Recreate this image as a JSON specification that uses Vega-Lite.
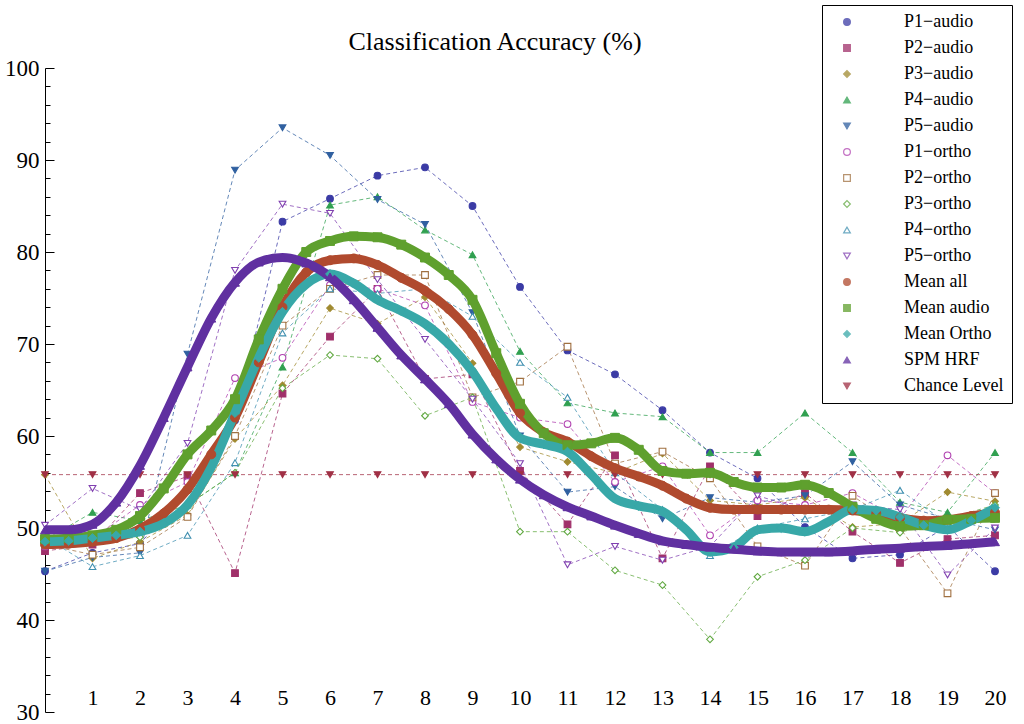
{
  "$schema": "https://vega.github.io/schema/vega-lite/v6.json",
  "width": 950,
  "height": 644,
  "autosize": {"type": "none"},
  "padding": {"left": 45, "top": 68, "right": 29, "bottom": 12},
  "background": "white",
  "config": {
    "view": {"stroke": null},
    "font": "Liberation Serif"
  },
  "title": {
    "text": "Classification Accuracy (%)",
    "font": "Liberation Serif",
    "fontSize": 26,
    "fontWeight": "normal",
    "color": "black",
    "anchor": "middle",
    "frame": "group",
    "dx": -25,
    "offset": -50
  },
  "datasets": {
    "ind": [
      {"x": 0, "P1−audio": 45.3, "P2−audio": 47.5, "P3−audio": 55.8, "P4−audio": 48.7, "P5−audio": 45.3, "P1−ortho": 48.0, "P2−ortho": 48.2, "P3−ortho": 48.5, "P4−ortho": 49.0, "P5−ortho": 50.3, "Chance Level": 55.8},
      {"x": 1, "P1−audio": 47.3, "P2−audio": 48.2, "P3−audio": 46.7, "P4−audio": 51.7, "P5−audio": 46.8, "P1−ortho": 48.8, "P2−ortho": 47.1, "P3−ortho": 48.6, "P4−ortho": 45.8, "P5−ortho": 54.3, "Chance Level": 55.8},
      {"x": 2, "P1−audio": 48.3, "P2−audio": 53.8, "P3−audio": 48.5, "P4−audio": 50.8, "P5−audio": 47.3, "P1−ortho": 52.5, "P2−ortho": 47.9, "P3−ortho": 49.0, "P4−ortho": 47.0, "P5−ortho": 52.0, "Chance Level": 55.8},
      {"x": 3, "P1−audio": 54.1, "P2−audio": 55.6, "P3−audio": 51.4, "P4−audio": 52.5, "P5−audio": 68.9, "P1−ortho": 55.0, "P2−ortho": 51.2, "P3−ortho": 52.5, "P4−ortho": 49.2, "P5−ortho": 59.2, "Chance Level": 55.8},
      {"x": 4, "P1−audio": 61.7, "P2−audio": 45.1, "P3−audio": 59.7, "P4−audio": 56.0, "P5−audio": 88.9, "P1−ortho": 66.3, "P2−ortho": 60.0, "P3−ortho": 56.0, "P4−ortho": 57.1, "P5−ortho": 78.0, "Chance Level": 55.8},
      {"x": 5, "P1−audio": 83.3, "P2−audio": 64.6, "P3−audio": 65.5, "P4−audio": 67.5, "P5−audio": 93.5, "P1−ortho": 68.5, "P2−ortho": 72.0, "P3−ortho": 65.2, "P4−ortho": 71.2, "P5−ortho": 85.2, "Chance Level": 55.8},
      {"x": 6, "P1−audio": 85.8, "P2−audio": 70.8, "P3−audio": 73.9, "P4−audio": 85.1, "P5−audio": 90.5, "P1−ortho": 76.4, "P2−ortho": 76.0, "P3−ortho": 68.8, "P4−ortho": 76.0, "P5−ortho": 84.2, "Chance Level": 55.8},
      {"x": 7, "P1−audio": 88.3, "P2−audio": 76.0, "P3−audio": 72.2, "P4−audio": 86.0, "P5−audio": 85.7, "P1−ortho": 76.0, "P2−ortho": 77.5, "P3−ortho": 68.4, "P4−ortho": 75.5, "P5−ortho": 77.0, "Chance Level": 55.8},
      {"x": 8, "P1−audio": 89.2, "P2−audio": 66.2, "P3−audio": 75.1, "P4−audio": 82.4, "P5−audio": 83.0, "P1−ortho": 74.2, "P2−ortho": 77.5, "P3−ortho": 62.2, "P4−ortho": 76.0, "P5−ortho": 70.5, "Chance Level": 55.8},
      {"x": 9, "P1−audio": 85.0, "P2−audio": 66.7, "P3−audio": 67.9, "P4−audio": 79.7, "P5−audio": 73.4, "P1−ortho": 63.7, "P2−ortho": 64.2, "P3−ortho": 64.2, "P4−ortho": 73.0, "P5−ortho": 64.0, "Chance Level": 55.8},
      {"x": 10, "P1−audio": 76.2, "P2−audio": 56.2, "P3−audio": 58.8, "P4−audio": 69.2, "P5−audio": 60.0, "P1−ortho": 62.0, "P2−ortho": 65.9, "P3−ortho": 49.6, "P4−ortho": 68.0, "P5−ortho": 57.0, "Chance Level": 55.8},
      {"x": 11, "P1−audio": 69.3, "P2−audio": 50.4, "P3−audio": 57.2, "P4−audio": 63.6, "P5−audio": 53.9, "P1−ortho": 61.3, "P2−ortho": 69.7, "P3−ortho": 49.6, "P4−ortho": 64.2, "P5−ortho": 46.0, "Chance Level": 55.8},
      {"x": 12, "P1−audio": 66.7, "P2−audio": 57.9, "P3−audio": 56.0, "P4−audio": 62.5, "P5−audio": 54.5, "P1−ortho": 55.0, "P2−ortho": 57.0, "P3−ortho": 45.4, "P4−ortho": 56.0, "P5−ortho": 48.0, "Chance Level": 55.8},
      {"x": 13, "P1−audio": 62.8, "P2−audio": 46.7, "P3−audio": 58.1, "P4−audio": 62.1, "P5−audio": 51.0, "P1−ortho": 56.7, "P2−ortho": 58.3, "P3−ortho": 43.8, "P4−ortho": 52.0, "P5−ortho": 46.5, "Chance Level": 55.8},
      {"x": 14, "P1−audio": 58.2, "P2−audio": 56.7, "P3−audio": 53.0, "P4−audio": 58.2, "P5−audio": 53.3, "P1−ortho": 49.2, "P2−ortho": 55.4, "P3−ortho": 37.9, "P4−ortho": 47.0, "P5−ortho": 48.0, "Chance Level": 55.8},
      {"x": 15, "P1−audio": 55.4, "P2−audio": 51.3, "P3−audio": 52.5, "P4−audio": 58.2, "P5−audio": 52.8, "P1−ortho": 53.0, "P2−ortho": 48.0, "P3−ortho": 44.7, "P4−ortho": 50.0, "P5−ortho": 53.5, "Chance Level": 55.8},
      {"x": 16, "P1−audio": 50.1, "P2−audio": 53.8, "P3−audio": 53.3, "P4−audio": 62.5, "P5−audio": 53.5, "P1−ortho": 52.5, "P2−ortho": 45.9, "P3−ortho": 46.5, "P4−ortho": 51.0, "P5−ortho": 52.0, "Chance Level": 55.8},
      {"x": 17, "P1−audio": 46.7, "P2−audio": 49.6, "P3−audio": 50.1, "P4−audio": 58.2, "P5−audio": 57.2, "P1−ortho": 53.8, "P2−ortho": 53.5, "P3−ortho": 50.0, "P4−ortho": 52.0, "P5−ortho": 52.5, "Chance Level": 55.8},
      {"x": 18, "P1−audio": 47.1, "P2−audio": 46.2, "P3−audio": 50.5, "P4−audio": 52.8, "P5−audio": 52.5, "P1−ortho": 51.0, "P2−ortho": 50.0, "P3−ortho": 49.5, "P4−ortho": 54.1, "P5−ortho": 52.0, "Chance Level": 55.8},
      {"x": 19, "P1−audio": 50.2, "P2−audio": 48.8, "P3−audio": 53.9, "P4−audio": 51.7, "P5−audio": 51.0, "P1−ortho": 57.9, "P2−ortho": 42.9, "P3−ortho": 51.0, "P4−ortho": 50.5, "P5−ortho": 44.9, "Chance Level": 55.8},
      {"x": 20, "P1−audio": 45.3, "P2−audio": 49.2, "P3−audio": 52.9, "P4−audio": 58.2, "P5−audio": 49.8, "P1−ortho": 53.8, "P2−ortho": 53.8, "P3−ortho": 52.5, "P4−ortho": 51.5, "P5−ortho": 50.0, "Chance Level": 55.8}
    ],
    "means": [
      {"x": 0, "Mean all": 48.2, "Mean audio": 48.8, "Mean Ortho": 48.5, "SPM HRF": 49.8},
      {"x": 0.5, "Mean all": 48.3, "Mean audio": 48.9, "Mean Ortho": 48.6, "SPM HRF": 49.8},
      {"x": 1, "Mean all": 48.5, "Mean audio": 49.2, "Mean Ortho": 48.9, "SPM HRF": 50.4},
      {"x": 1.5, "Mean all": 48.9, "Mean audio": 49.8, "Mean Ortho": 49.2, "SPM HRF": 52.8},
      {"x": 2, "Mean all": 49.9, "Mean audio": 51.3, "Mean Ortho": 49.6, "SPM HRF": 56.8},
      {"x": 2.5, "Mean all": 51.6, "Mean audio": 54.3, "Mean Ortho": 50.5, "SPM HRF": 62.0},
      {"x": 3, "Mean all": 54.2, "Mean audio": 58.0, "Mean Ortho": 52.5, "SPM HRF": 67.5},
      {"x": 3.5, "Mean all": 58.0, "Mean audio": 60.6, "Mean Ortho": 56.6, "SPM HRF": 72.8},
      {"x": 4, "Mean all": 62.0, "Mean audio": 64.0, "Mean Ortho": 62.5, "SPM HRF": 76.7},
      {"x": 4.5, "Mean all": 68.0, "Mean audio": 70.5, "Mean Ortho": 68.5, "SPM HRF": 78.9},
      {"x": 5, "Mean all": 74.0, "Mean audio": 76.0, "Mean Ortho": 73.5, "SPM HRF": 79.4},
      {"x": 5.5, "Mean all": 77.8, "Mean audio": 80.0, "Mean Ortho": 76.5, "SPM HRF": 78.8},
      {"x": 6, "Mean all": 79.1, "Mean audio": 81.2, "Mean Ortho": 77.6, "SPM HRF": 77.3},
      {"x": 6.5, "Mean all": 79.3, "Mean audio": 81.7, "Mean Ortho": 76.6, "SPM HRF": 74.8},
      {"x": 7, "Mean all": 78.6, "Mean audio": 81.6, "Mean Ortho": 74.8, "SPM HRF": 71.8},
      {"x": 7.5, "Mean all": 77.2, "Mean audio": 80.8, "Mean Ortho": 73.6, "SPM HRF": 68.8},
      {"x": 8, "Mean all": 75.8, "Mean audio": 79.4, "Mean Ortho": 72.2, "SPM HRF": 66.2},
      {"x": 8.5, "Mean all": 73.8, "Mean audio": 77.5, "Mean Ortho": 70.0, "SPM HRF": 63.5},
      {"x": 9, "Mean all": 71.0, "Mean audio": 74.8, "Mean Ortho": 67.0, "SPM HRF": 60.2},
      {"x": 9.5, "Mean all": 66.8, "Mean audio": 69.0, "Mean Ortho": 63.0, "SPM HRF": 57.5},
      {"x": 10, "Mean all": 62.5, "Mean audio": 63.5, "Mean Ortho": 59.8, "SPM HRF": 55.3},
      {"x": 10.5, "Mean all": 60.4, "Mean audio": 60.3, "Mean Ortho": 59.1, "SPM HRF": 53.6},
      {"x": 11, "Mean all": 59.4, "Mean audio": 59.0, "Mean Ortho": 58.3, "SPM HRF": 52.3},
      {"x": 11.5, "Mean all": 57.8, "Mean audio": 59.2, "Mean Ortho": 55.8, "SPM HRF": 51.3},
      {"x": 12, "Mean all": 56.5, "Mean audio": 59.8, "Mean Ortho": 53.2, "SPM HRF": 50.3},
      {"x": 12.5, "Mean all": 55.6, "Mean audio": 58.5, "Mean Ortho": 52.4, "SPM HRF": 49.4},
      {"x": 13, "Mean all": 54.6, "Mean audio": 56.2, "Mean Ortho": 51.8, "SPM HRF": 48.6},
      {"x": 13.5, "Mean all": 53.2, "Mean audio": 55.9, "Mean Ortho": 49.8, "SPM HRF": 48.2},
      {"x": 14, "Mean all": 52.2, "Mean audio": 56.0, "Mean Ortho": 47.4, "SPM HRF": 47.9},
      {"x": 14.5, "Mean all": 52.0, "Mean audio": 55.0, "Mean Ortho": 47.9, "SPM HRF": 47.7},
      {"x": 15, "Mean all": 52.0, "Mean audio": 54.4, "Mean Ortho": 49.8, "SPM HRF": 47.5},
      {"x": 15.5, "Mean all": 52.0, "Mean audio": 54.4, "Mean Ortho": 50.0, "SPM HRF": 47.4},
      {"x": 16, "Mean all": 52.0, "Mean audio": 54.7, "Mean Ortho": 49.6, "SPM HRF": 47.4},
      {"x": 16.5, "Mean all": 52.0, "Mean audio": 53.8, "Mean Ortho": 50.7, "SPM HRF": 47.4},
      {"x": 17, "Mean all": 51.9, "Mean audio": 52.3, "Mean Ortho": 52.0, "SPM HRF": 47.5},
      {"x": 17.5, "Mean all": 51.6, "Mean audio": 51.0, "Mean Ortho": 51.9, "SPM HRF": 47.7},
      {"x": 18, "Mean all": 51.1, "Mean audio": 50.2, "Mean Ortho": 51.2, "SPM HRF": 47.8},
      {"x": 18.5, "Mean all": 50.8, "Mean audio": 50.3, "Mean Ortho": 50.3, "SPM HRF": 48.0},
      {"x": 19, "Mean all": 50.9, "Mean audio": 50.9, "Mean Ortho": 49.8, "SPM HRF": 48.1},
      {"x": 19.5, "Mean all": 51.3, "Mean audio": 51.0, "Mean Ortho": 50.8, "SPM HRF": 48.3},
      {"x": 20, "Mean all": 51.7, "Mean audio": 51.1, "Mean Ortho": 52.2, "SPM HRF": 48.5}
    ]
  },
  "encoding": {
    "x": {
      "field": "x",
      "type": "quantitative",
      "scale": {"domain": [0, 20], "nice": false, "zero": false},
      "axis": {
        "title": null,
        "values": [1, 2, 3, 4, 5, 6, 7, 8, 9, 10, 11, 12, 13, 14, 15, 16, 17, 18, 19, 20],
        "domain": false,
        "ticks": false,
        "grid": false,
        "labelFont": "Liberation Serif",
        "labelFontSize": 22,
        "labelColor": "black",
        "labelBaseline": "top",
        "labelPadding": -25,
        "labelFlush": false,
        "labelOverlap": false
      }
    },
    "y": {
      "field": "acc",
      "type": "quantitative",
      "scale": {"domain": [30, 100], "nice": false, "zero": false},
      "axis": {
        "title": null,
        "values": [30, 32, 34, 36, 38, 40, 42, 44, 46, 48, 50, 52, 54, 56, 58, 60, 62, 64, 66, 68, 70, 72, 74, 76, 78, 80, 82, 84, 86, 88, 90, 92, 94, 96, 98, 100],
        "labelExpr": "datum.value % 10 === 0 ? datum.value : ''",
        "tickSize": {"condition": {"test": "datum.value % 10 === 0", "value": -9}, "value": -5},
        "tickColor": "black",
        "domainColor": "black",
        "grid": false,
        "labelFont": "Liberation Serif",
        "labelFontSize": 23,
        "labelColor": "black",
        "labelPadding": 15,
        "labelFlush": false,
        "labelOverlap": false
      }
    },
    "color": {
      "field": "series", "type": "nominal",
      "scale": {
        "domain": ["P1−audio", "P2−audio", "P3−audio", "P4−audio", "P5−audio", "P1−ortho", "P2−ortho", "P3−ortho", "P4−ortho", "P5−ortho", "Mean all", "Mean audio", "Mean Ortho", "SPM HRF", "Chance Level"],
        "range": ["#3B3BA5", "#A0306A", "#A08A30", "#30A050", "#3060A0", "#B040B0", "#A07040", "#60A840", "#4090B0", "#8040B0", "#B04A2E", "#5FA02E", "#38A8A8", "#6030A0", "#A03045"]
      },
      "legend": {
        "orient": "none",
        "legendX": 777,
        "legendY": -63,
        "title": null,
        "strokeColor": "black",
        "fillColor": "white",
        "padding": 8,
        "labelFont": "Liberation Serif",
        "labelFontSize": 18,
        "labelColor": "black",
        "labelOffset": 48,
        "symbolOffset": 8,
        "symbolSize": 45,
        "symbolStrokeWidth": 1.2,
        "rowPadding": 8,
        "labelLimit": 300
      }
    }
  },
  "layer": [
    {
      "data": {"name": "ind"},
      "transform": [{"fold": ["P1−audio", "P2−audio", "P3−audio", "P4−audio", "P5−audio", "P1−ortho", "P2−ortho", "P3−ortho", "P4−ortho", "P5−ortho", "Chance Level"], "as": ["series", "acc"]}],
      "mark": {"type": "line", "strokeWidth": 1, "strokeDash": [4, 3], "opacity": 0.75}
    },
    {
      "data": {"name": "ind"},
      "transform": [{"fold": ["P1−audio", "P2−audio", "P3−audio", "P4−audio", "P5−audio", "P1−ortho", "P2−ortho", "P3−ortho", "P4−ortho", "P5−ortho", "Chance Level"], "as": ["series", "acc"]}],
      "mark": {"type": "point", "filled": false, "size": 45, "strokeWidth": 1.1, "opacity": 1},
      "encoding": {
        "fill": {
          "field": "series", "type": "nominal",
          "scale": {
            "domain": ["P1−audio", "P2−audio", "P3−audio", "P4−audio", "P5−audio", "P1−ortho", "P2−ortho", "P3−ortho", "P4−ortho", "P5−ortho", "Mean all", "Mean audio", "Mean Ortho", "SPM HRF", "Chance Level"],
            "range": ["#3B3BA5", "#A0306A", "#A08A30", "#30A050", "#3060A0", "#ffffff", "#ffffff", "#ffffff", "#ffffff", "#ffffff", "#B04A2E", "#5FA02E", "#38A8A8", "#6030A0", "#A03045"]
          }
        },
        "shape": {
          "field": "series", "type": "nominal",
          "scale": {
            "domain": ["P1−audio", "P2−audio", "P3−audio", "P4−audio", "P5−audio", "P1−ortho", "P2−ortho", "P3−ortho", "P4−ortho", "P5−ortho", "Mean all", "Mean audio", "Mean Ortho", "SPM HRF", "Chance Level"],
            "range": ["circle", "square", "diamond", "triangle-up", "triangle-down", "circle", "square", "diamond", "triangle-up", "triangle-down", "circle", "square", "diamond", "triangle-up", "triangle-down"]
          }
        }
      }
    },
    {
      "data": {"name": "means"},
      "transform": [{"fold": ["Mean all", "Mean audio", "Mean Ortho", "SPM HRF"], "as": ["series", "acc"]}],
      "mark": {"type": "line", "strokeWidth": 9, "interpolate": "monotone"}
    },
    {
      "data": {"name": "means"},
      "transform": [{"fold": ["Mean all", "Mean audio", "Mean Ortho", "SPM HRF"], "as": ["series", "acc"]}],
      "mark": {"type": "point", "filled": false, "size": 80, "strokeWidth": 1, "opacity": 1},
      "encoding": {
        "fill": {"field": "series", "type": "nominal"},
        "shape": {"field": "series", "type": "nominal"}
      }
    }
  ]
}
